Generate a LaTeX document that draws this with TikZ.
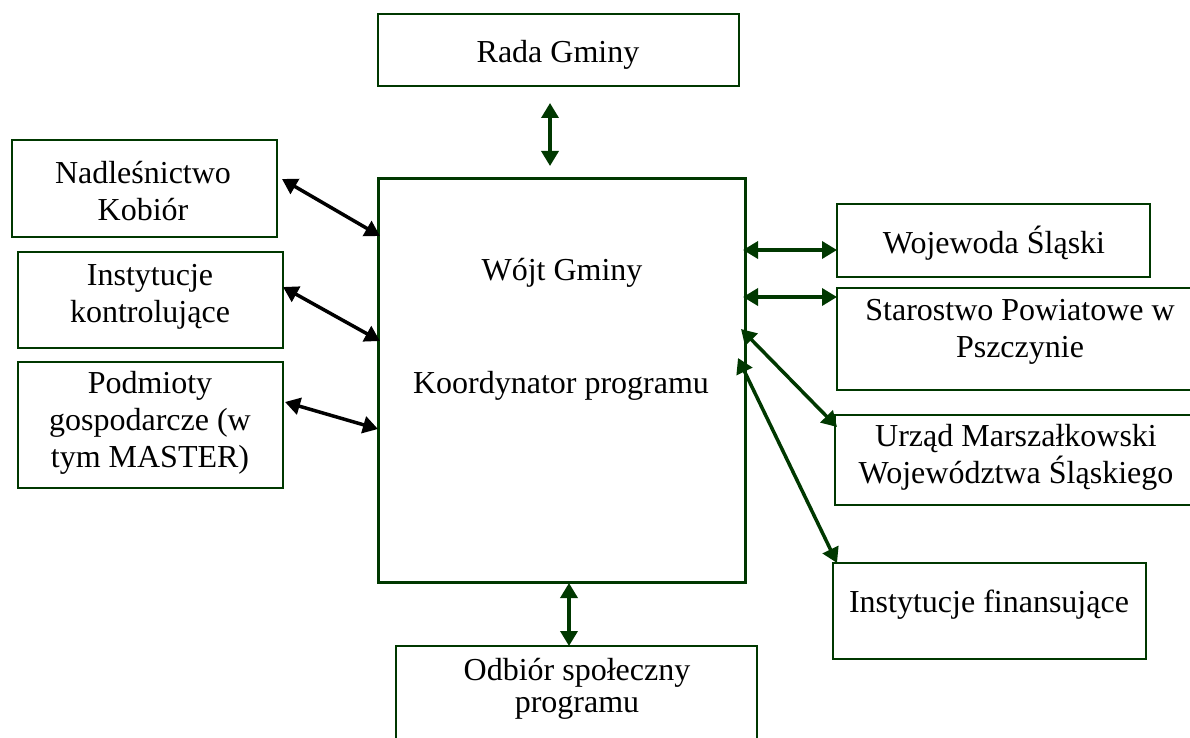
\documentclass[tikz,border=0pt]{standalone}
\usepackage{fontspec}
\setmainfont{Liberation Serif}
\usetikzlibrary{arrows.meta}
\definecolor{ciemnozielony}{RGB}{0,56,0}
\tikzset{
  ramka/.style={draw=ciemnozielony, line width=2pt, inner sep=0pt, outer sep=0pt},
  opis/.style={anchor=base, align=center, font=\fontsize{32}{37}\selectfont},
  strz/.style={line width=3.5pt, {Triangle[length=15pt,width=17pt]}-{Triangle[length=15pt,width=17pt]}},
}

\begin{document}
\begin{tikzpicture}[x=1pt, y=-1pt]
\clip (0,0) rectangle (1190,738);
% ramki
\node[ramka, minimum width=361pt, minimum height=72pt] (rada) at (558.5,50) {};
\node[ramka, line width=3pt, minimum width=367pt, minimum height=403pt] (wojt) at (561.5,380.5) {};
\node[ramka, minimum width=265pt, minimum height=97pt] (nad) at (144.5,188.5) {};
\node[ramka, minimum width=265pt, minimum height=96pt] (kontr) at (150.5,300) {};
\node[ramka, minimum width=265pt, minimum height=126pt] (podm) at (150.5,425) {};
\node[ramka, minimum width=313pt, minimum height=73pt] (woj) at (993.5,240.5) {};
\node[ramka, minimum width=363pt, minimum height=102pt] (star) at (1018.5,339) {};
\node[ramka, minimum width=365pt, minimum height=90pt] (urz) at (1017.5,460) {};
\node[ramka, minimum width=313pt, minimum height=96pt] (fin) at (989.5,611) {};
\node[ramka, minimum width=361pt, minimum height=114pt] (odb) at (576.5,703) {};
% napisy (base = ostatnia linia)
\node[opis] (t-rada) at (558,63) {Rada Gminy};
\node[opis] (t-wojt) at (562,280) {Wójt Gminy};
\node[opis] (t-koord) at (561,393) {Koordynator programu};
\node[opis] (t-nad) at (143,220) {Nadleśnictwo\\Kobiór};
\node[opis] (t-kontr) at (150,322) {Instytucje\\kontrolujące};
\node[opis] (t-podm) at (150,467) {Podmioty\\gospodarcze (w\\tym MASTER)};
\node[opis] (t-woj) at (994,253) {Wojewoda Śląski};
\node[opis] (t-star) at (1020,357) {Starostwo Powiatowe w\\Pszczynie};
\node[opis] (t-urz) at (1016,483) {Urząd Marszałkowski\\Województwa Śląskiego};
\node[opis] (t-fin) at (989,612) {Instytucje finansujące};
\node[opis] (t-odb) at (577,712) {Odbiór społeczny\\[-5pt]programu};
% strzalki
\draw[strz, ciemnozielony] ([xshift=-8.5pt,yshift=-17pt]rada.south) -- ([xshift=-11.5pt,yshift=13pt]wojt.north);
\draw[strz, ciemnozielony] ([xshift=7.5pt,yshift=-1pt]wojt.south) -- ([xshift=-7.5pt]odb.north);
\draw[strz] ([xshift=5pt,yshift=9.5pt]nad.east) -- ([xshift=2pt,yshift=144.5pt]wojt.west);
\draw[strz] ([yshift=13pt]kontr.east) -- ([xshift=2pt,yshift=39.5pt]wojt.west);
\draw[strz] ([xshift=2pt,yshift=23pt]podm.east) -- ([yshift=-48.5pt]wojt.west);
\draw[strz, ciemnozielony] ([xshift=-2pt,yshift=130.5pt]wojt.east) -- ([yshift=-9.5pt]woj.west);
\draw[strz, ciemnozielony] ([xshift=-2pt,yshift=83.5pt]wojt.east) -- ([yshift=42pt]star.west);
\draw[strz, ciemnozielony] ([xshift=-4pt,yshift=51.5pt]wojt.east) -- ([xshift=2pt,yshift=33pt]urz.west);
\draw[strz, ciemnozielony] ([xshift=-7pt,yshift=22.5pt]wojt.east) -- ([xshift=4pt]fin.north west);
\end{tikzpicture}
\end{document}
